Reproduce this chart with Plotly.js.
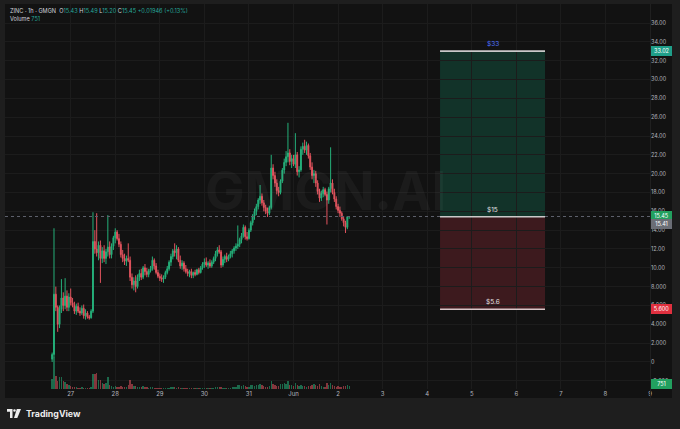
<!DOCTYPE html>
<html><head><meta charset="utf-8">
<script src="https://cdn.plot.ly/plotly-3.0.1.min.js"></script>
<style>html,body{margin:0;padding:0;background:#1e1e1e;overflow:hidden}#chart{width:680px;height:429px;}</style>
</head><body><div id="chart"></div>
<script>
// ---- data (1h candles, ZINC / GMGN) ----
const START_TIME = '2024-05-26T14:00:00Z';
const OPEN = [
0.3,0.8,7.2,5.8,4.0,5.6,6.8,6.0,7.0,5.8,
6.9,6.3,6.0,5.4,5.9,5.4,5.2,5.7,4.9,5.2,
4.8,4.7,5.4,12.8,12.0,11.6,12.4,11.0,11.8,11.0,
11.7,12.2,11.4,12.3,13.2,13.8,13.1,12.5,11.4,11.0,
10.7,11.0,10.8,9.0,8.2,8.6,8.0,9.0,9.4,9.0,
10.0,9.6,9.3,9.7,9.9,10.8,10.2,9.5,9.1,8.9,
8.8,9.0,9.5,9.9,10.6,11.2,11.8,11.6,12.0,10.8,
10.2,10.5,9.9,9.6,9.4,9.6,9.2,9.5,9.3,9.8,
9.5,10.0,10.4,10.6,10.3,10.5,10.2,10.6,11.0,11.5,
11.9,11.7,10.3,10.9,11.2,10.9,11.2,11.5,11.8,12.1,
12.3,12.5,13.0,13.4,14.3,13.3,13.1,14.0,14.8,15.5,
16.0,16.5,17.2,17.6,16.9,16.4,16.0,15.8,16.4,20.6,
19.8,19.0,18.2,18.0,19.2,20.4,21.2,21.8,22.2,21.3,
21.6,21.0,22.0,20.2,20.4,22.6,22.9,22.5,23.0,21.9,
20.7,19.8,20.0,19.0,18.1,17.4,17.9,18.3,17.8,17.2,
18.4,19.0,18.0,17.3,16.5,16.1,15.8,15.2,14.8,14.3,
15.43];
const HIGH = [
1.0,14.2,8.0,6.0,6.0,8.8,7.4,8.9,7.6,7.3,
7.8,6.8,6.4,6.2,6.3,5.8,6.0,6.1,5.6,5.4,
5.0,5.6,15.9,14.0,15.8,12.8,12.9,12.2,12.4,12.0,
15.6,12.8,12.6,13.4,14.2,14.0,13.6,12.8,11.9,11.5,
11.3,12.6,11.2,9.4,9.0,9.2,9.3,9.8,9.9,10.2,
10.4,10.0,9.9,10.2,11.2,11.0,10.5,9.8,9.4,9.3,
9.2,9.7,10.2,10.8,11.5,12.0,12.6,12.4,12.2,11.3,
10.8,10.7,10.3,9.9,9.8,9.9,9.6,9.8,9.9,10.0,
10.2,10.6,11.0,11.1,10.7,10.9,10.8,11.2,11.8,12.2,
12.4,11.9,11.2,11.4,11.6,11.4,11.8,12.0,12.3,12.6,
14.5,13.2,13.7,14.6,14.5,13.8,14.2,15.0,15.7,16.3,
16.8,17.4,18.8,17.9,17.2,16.7,16.4,16.6,22.0,21.0,
20.2,19.4,18.6,19.4,20.6,21.6,22.4,25.4,22.6,22.0,
22.0,24.3,22.3,20.8,22.9,23.3,23.6,23.4,23.2,22.2,
21.2,20.4,20.3,19.3,18.4,18.2,18.6,18.5,18.1,18.6,
22.8,19.4,18.4,17.6,16.8,16.5,16.0,15.5,15.0,15.5,
15.49];
const LOW = [
0.0,0.5,5.4,3.2,3.6,5.2,5.4,5.6,5.4,5.4,
6.0,5.8,5.1,5.0,5.2,4.9,5.0,4.6,4.5,4.6,
4.5,4.6,5.2,11.5,11.2,10.8,8.4,10.5,10.6,10.4,
11.2,11.0,11.0,11.9,12.6,12.9,12.2,11.1,10.6,10.3,
10.2,10.6,8.6,7.8,7.6,7.4,7.8,8.6,8.7,8.8,
9.2,9.0,9.0,9.5,9.7,9.8,9.3,8.9,8.6,8.5,
8.4,8.8,9.3,9.7,10.2,10.9,11.2,10.9,10.6,9.9,
9.8,9.6,9.4,9.1,9.0,8.9,8.9,9.1,9.2,9.3,
9.4,9.8,10.0,10.1,9.9,10.0,10.0,10.4,10.7,11.2,
11.5,10.0,10.1,10.5,10.6,10.7,11.0,11.1,11.5,11.8,
12.0,12.2,12.6,13.2,13.0,12.9,13.0,13.8,14.5,15.1,
15.6,16.2,16.8,16.6,16.0,15.7,15.4,15.6,16.2,19.4,
18.6,17.8,17.6,17.8,19.0,20.0,20.8,21.2,20.9,20.6,
20.8,20.6,19.8,19.6,20.2,22.0,22.2,22.0,21.6,20.4,
19.4,19.0,18.6,17.8,17.0,17.1,17.5,17.6,14.6,16.8,
18.0,17.8,17.0,16.2,15.8,15.4,15.0,14.4,13.7,14.1,
15.20];
const CLOSE = [
0.8,7.2,5.8,4.0,5.6,6.8,6.0,7.0,5.8,6.9,
6.3,6.0,5.4,5.9,5.4,5.2,5.7,4.9,5.2,4.8,
4.7,5.4,12.8,12.0,11.6,12.4,11.0,11.8,11.0,11.7,
12.2,11.4,12.3,13.2,13.8,13.1,12.5,11.4,11.0,10.7,
11.0,10.8,9.0,8.2,8.6,8.0,9.0,9.4,9.0,10.0,
9.6,9.3,9.7,9.9,10.8,10.2,9.5,9.1,8.9,8.8,
9.0,9.5,9.9,10.6,11.2,11.8,11.6,12.0,10.8,10.2,
10.5,9.9,9.6,9.4,9.6,9.2,9.5,9.3,9.8,9.5,
10.0,10.4,10.6,10.3,10.5,10.2,10.6,11.0,11.5,11.9,
11.7,10.3,10.9,11.2,10.9,11.2,11.5,11.8,12.1,12.3,
12.5,13.0,13.4,14.3,13.3,13.1,14.0,14.8,15.5,16.0,
16.5,17.2,17.6,16.9,16.4,16.0,15.8,16.4,20.6,19.8,
19.0,18.2,18.0,19.2,20.4,21.2,21.8,22.2,21.3,21.6,
21.0,22.0,20.2,20.4,22.6,22.9,22.5,23.0,21.9,20.7,
19.8,20.0,19.0,18.1,17.4,17.9,18.3,17.8,17.2,18.4,
19.0,18.0,17.3,16.5,16.1,15.8,15.2,14.8,14.3,15.43,
15.45];
const VOLUME = [
2500,8000,3300,2000,3000,3000,2000,1800,1300,1000,
800,500,400,450,350,300,400,350,300,350,
300,500,3800,3700,4000,2200,2300,1500,1300,1500,
3000,900,700,600,700,500,600,700,500,400,
500,900,2300,1200,800,700,600,500,600,700,
500,400,300,400,500,300,250,300,200,250,
300,250,300,350,400,450,500,350,400,300,
250,300,200,250,200,250,300,200,250,300,
250,300,350,250,200,250,300,350,400,450,
400,600,350,300,250,300,350,400,500,600,
1100,900,800,1000,700,500,600,900,1000,800,
1100,1000,1300,900,700,600,500,800,2100,1200,
900,800,700,1300,1200,1500,1300,2000,1100,900,
800,1400,1000,700,900,800,700,600,700,800,
900,1200,1000,800,1200,700,600,500,1500,1100,
1600,900,700,600,700,500,600,700,800,900,
751];

const DAY_TICKS = ['2024-05-27','2024-05-28','2024-05-29','2024-05-30','2024-05-31','2024-06-01','2024-06-02','2024-06-03','2024-06-04','2024-06-05','2024-06-06','2024-06-07','2024-06-08','2024-06-09'];
const DAY_LABELS = ['27','28','29','30','31','Jun','2','3','4','5','6','7','8','9'];
const PRICE_TICKS = [-2,0,2,4,6,8,10,12,14,16,18,20,22,24,26,28,30,32,34,36];
const PRICE_LABELS = ['-2.000','0','2.000','4.000','6.000','8.000','10.00','12.00','14.00','16.00','18.00','20.00','22.00','24.00','26.00','28.00','30.00','32.00','34.00','36.00'];

// position tool (long)
const POS_TARGET = 33.02, POS_ENTRY = 15.43, POS_STOP = 5.6;
const POS_START = '2024-06-04 06:55', POS_END = '2024-06-06 15:27', POS_MID = '2024-06-05 11:11';
const POS_LABELS = ['$33','$15','$5.6'];
const LAST_PRICE = 15.45, OTHER_PRICE = 15.41, LAST_VOLUME = 751;

// ---- layout helpers ----
const W=680,H=429, ML=5, MR=30, MT=4, MB=40;
const PW=W-ML-MR, PH=H-MT-MB;
const px = x => (x-ML)/PW;
const py = y => 1-(y-MT)/PH;

const GREEN='#25b07a', RED='#e2545e';
const t0 = Date.parse(START_TIME);
const TIMES = OPEN.map((_,i)=>new Date(t0+i*3600000).toISOString().slice(0,16).replace('T',' '));
const VCOL = OPEN.map((o,i)=> CLOSE[i]>=o ? 'rgba(37,176,122,0.55)' : 'rgba(226,84,94,0.55)');

const traces = [
 {type:'bar', x:TIMES, y:VOLUME, yaxis:'y2', marker:{color:VCOL, line:{width:0}}, width:3600000*0.75, hoverinfo:'skip', showlegend:false},
 {type:'candlestick', x:TIMES, open:OPEN, high:HIGH, low:LOW, close:CLOSE,
  increasing:{line:{color:GREEN,width:1}, fillcolor:GREEN},
  decreasing:{line:{color:RED,width:1}, fillcolor:RED},
  whiskerwidth:0, hoverinfo:'skip', showlegend:false}
];

const labelFont = {family:'Inter, sans-serif', size:5.5, color:'#ffffff'};
function priceBox(y, text, bg){
  return {xref:'paper', yref:'y', x:1, y:y, xanchor:'left', yanchor:'middle', xshift:1,
    text:text, showarrow:false, bgcolor:bg, bordercolor:bg, borderpad:1, width:17, font:labelFont};
}

const G='#26a69a';
const header = '<span style="color:#d1d4dc">ZINC · 1h · GMGN</span>  '+
 '<span style="color:#d1d4dc">O</span><span style="color:'+G+'">15.43</span> '+
 '<span style="color:#d1d4dc">H</span><span style="color:'+G+'">15.49</span> '+
 '<span style="color:#d1d4dc">L</span><span style="color:'+G+'">15.20</span> '+
 '<span style="color:#d1d4dc">C</span><span style="color:'+G+'">15.45</span> '+
 '<span style="color:'+G+'">+0.01946 (+0.13%)</span>';

const annotations = [
 {xref:'paper',yref:'paper',x:px(8),y:py(11.5),xanchor:'left',yanchor:'middle',showarrow:false,text:header,font:{family:'Inter, sans-serif',size:5.6,color:'#d1d4dc'}},
 {xref:'paper',yref:'paper',x:px(8),y:py(19.5),xanchor:'left',yanchor:'middle',showarrow:false,text:'<span style="color:#d1d4dc">Volume</span> <span style="color:'+G+'">'+LAST_VOLUME+'</span>',font:{family:'Inter, sans-serif',size:5.6,color:'#d1d4dc'}},
 {xref:'paper',yref:'paper',x:px(325),y:py(191),xanchor:'center',yanchor:'middle',showarrow:false,text:'GMGN.AI',font:{family:'Inter, sans-serif',size:53,color:'rgba(255,255,255,0.04)',weight:700}},
 {xref:'x',yref:'y',x:POS_MID,y:POS_TARGET,yanchor:'bottom',yshift:1,showarrow:false,text:POS_LABELS[0],font:{family:'Inter, sans-serif',size:6.5,color:'#4f73ff'}},
 {xref:'x',yref:'y',x:POS_MID,y:POS_ENTRY,yanchor:'bottom',yshift:1,showarrow:false,text:POS_LABELS[1],font:{family:'Inter, sans-serif',size:6.5,color:'#e0e0e0'}},
 {xref:'x',yref:'y',x:POS_MID,y:POS_STOP,yanchor:'bottom',yshift:1,showarrow:false,text:POS_LABELS[2],font:{family:'Inter, sans-serif',size:6.5,color:'#e0e0e0'}},
 priceBox(POS_TARGET, POS_TARGET.toFixed(2), '#1f9e89'),
 priceBox(LAST_PRICE+0.1, LAST_PRICE.toFixed(2), '#22a05f'),
 priceBox(14.62, OTHER_PRICE.toFixed(2), '#6b6e76'),
 priceBox(POS_STOP, '5.600', '#e0303f'),
 priceBox(-2.37, String(LAST_VOLUME), '#22a05f'),
 {xref:'paper',yref:'paper',x:px(23.5),y:py(414),xanchor:'left',yanchor:'middle',showarrow:false,text:'<b>TradingView</b>',font:{family:'Inter, sans-serif',size:8.8,color:'#ececec'}}
];

const shapes = [
 {type:'rect',xref:'paper',yref:'paper',x0:px(5),x1:px(672),y0:py(4),y1:py(398),fillcolor:'#121212',line:{width:0},layer:'below'},
 {type:'line',xref:'paper',yref:'paper',x0:px(650.5),x1:px(650.5),y0:py(4),y1:py(398),line:{color:'#202020',width:1}},
 {type:'rect',xref:'x',yref:'y',x0:POS_START,x1:POS_END,y0:POS_ENTRY,y1:POS_TARGET,fillcolor:'rgba(20,170,125,0.22)',line:{width:0},layer:'below'},
 {type:'rect',xref:'x',yref:'y',x0:POS_START,x1:POS_END,y0:POS_STOP,y1:POS_ENTRY,fillcolor:'rgba(200,55,70,0.24)',line:{width:0},layer:'below'},
 {type:'line',xref:'paper',yref:'y',x0:0,x1:1,y0:LAST_PRICE,y1:LAST_PRICE,line:{color:'#5d606b',width:1,dash:'dot'}},
 {type:'line',xref:'x',yref:'y',x0:POS_START,x1:POS_END,y0:POS_TARGET,y1:POS_TARGET,line:{color:'#c9c9c9',width:1.6}},
 {type:'line',xref:'x',yref:'y',x0:POS_START,x1:POS_END,y0:POS_ENTRY,y1:POS_ENTRY,line:{color:'#c9c9c9',width:1.6}},
 {type:'line',xref:'x',yref:'y',x0:POS_START,x1:POS_END,y0:POS_STOP,y1:POS_STOP,line:{color:'#d9c6c8',width:1.6}},
 // TradingView logo
 {type:'path',xref:'paper',yref:'paper',path:`M ${px(7)} ${py(409)} L ${px(12.5)} ${py(409)} L ${px(12.5)} ${py(418)} L ${px(10)} ${py(418)} L ${px(10)} ${py(411.8)} L ${px(7)} ${py(411.8)} Z`,fillcolor:'#ececec',line:{width:0}},
 {type:'circle',xref:'paper',yref:'paper',x0:px(13.2),x1:px(15.8),y0:py(409.2),y1:py(411.8),fillcolor:'#ececec',line:{width:0}},
 {type:'path',xref:'paper',yref:'paper',path:`M ${px(16.8)} ${py(409)} L ${px(21)} ${py(409)} L ${px(17.3)} ${py(418)} L ${px(14)} ${py(418)} Z`,fillcolor:'#ececec',line:{width:0}}
];

const layout = {
 width:W, height:H, margin:{l:ML,r:MR,t:MT,b:MB,pad:0},
 paper_bgcolor:'#1e1e1e', plot_bgcolor:'rgba(0,0,0,0)',
 showlegend:false, dragmode:false, bargap:0,
 xaxis:{type:'date', range:['2024-05-25 12:37','2024-06-09 00:00'], tickvals:DAY_TICKS, ticktext:DAY_LABELS,
   showgrid:true, gridcolor:'#1c1c1c', gridwidth:1, zeroline:false, showline:false, ticks:'',
   tickfont:{family:'Inter, sans-serif',size:6,color:'#b2b5be'}, rangeslider:{visible:false}, fixedrange:true},
 yaxis:{side:'right', range:[-2.87,38.02], tickvals:PRICE_TICKS, ticktext:PRICE_LABELS,
   showgrid:true, gridcolor:'#1c1c1c', gridwidth:1, zeroline:false, showline:false, ticks:'',
   tickfont:{family:'Inter, sans-serif',size:5.5,color:'#b2b5be'}, fixedrange:true},
 yaxis2:{overlaying:'y', range:[0, PH*250], visible:false, fixedrange:true},
 annotations:annotations, shapes:shapes
};

Plotly.newPlot('chart', traces, layout, {displayModeBar:false, staticPlot:true});
</script>
</body></html>
